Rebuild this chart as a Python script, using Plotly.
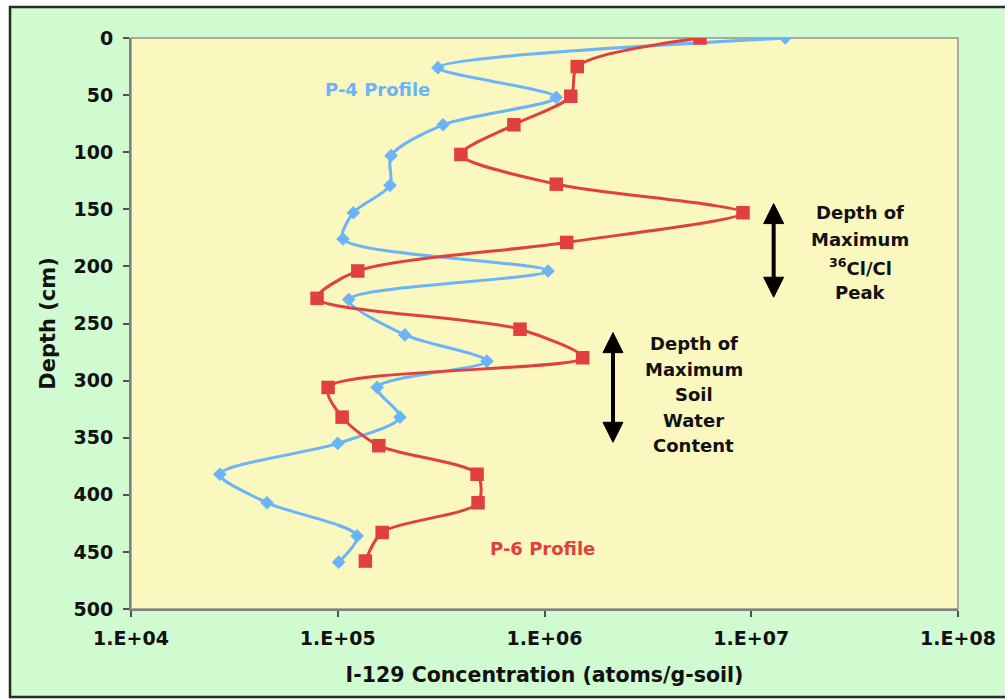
import plotly.graph_objects as go

# I-129 concentration profiles (atoms/g-soil) versus depth (cm)
depth_p4 = [0, 26, 52, 76, 103, 129, 153, 176, 204, 229, 260, 283, 306, 332, 355, 382, 407, 436, 459]
conc_p4 = [1.46e7, 3.05e5, 1.14e6, 3.23e5, 1.81e5, 1.79e5, 1.19e5, 1.06e5, 1.04e6, 1.13e5,
           2.11e5, 5.27e5, 1.55e5, 2.00e5, 1.00e5, 2.69e4, 4.55e4, 1.24e5, 1.01e5]

depth_p6 = [0, 25, 51, 76, 102, 128, 153, 179, 204, 228, 255, 280, 306, 332, 357, 382, 407, 433, 458]
conc_p6 = [5.65e6, 1.44e6, 1.34e6, 7.11e5, 3.94e5, 1.14e6, 9.12e6, 1.28e6, 1.25e5, 7.94e4,
           7.61e5, 1.53e6, 8.98e4, 1.05e5, 1.58e5, 4.72e5, 4.77e5, 1.64e5, 1.36e5]

x_tickvals = [1e4, 1e5, 1e6, 1e7, 1e8]
x_ticktext = ["1.E+04", "1.E+05", "1.E+06", "1.E+07", "1.E+08"]
y_tickvals = list(range(0, 501, 50))

# depth ranges marked with double-headed arrows: (x as plot-area fraction, top, bottom)
peak_arrow = (0.7771, 145, 227)
water_arrow = (0.5828, 258, 354)

peak_lines = ["Depth of", "Maximum", "<sup>36</sup>Cl/Cl", "Peak"]
peak_line_depths = [153, 176.3, 200.5, 223]
peak_text_x = 7.526

water_lines = ["Depth of", "Maximum", "Soil", "Water", "Content"]
water_line_depths = [267.3, 290.1, 312.6, 334.5, 357]
water_text_x = 6.723

BLUE = "#6AB4F7"
RED = "#E04040"
INK = "#111111"
FONT = "DejaVu Sans"

fig = go.Figure()
fig.add_trace(go.Scatter(
    x=conc_p4, y=depth_p4, mode="lines+markers", name="P-4 Profile",
    line=dict(color=BLUE, width=3, shape="spline", smoothing=0.8),
    marker=dict(symbol="diamond", size=10.5, color=BLUE),
))
fig.add_trace(go.Scatter(
    x=conc_p6, y=depth_p6, mode="lines+markers", name="P-6 Profile",
    line=dict(color=RED, width=3, shape="spline", smoothing=0.8),
    marker=dict(symbol="square", size=13.5, color=RED),
))

annotations = [
    dict(x=5.190, y=44.7, text="P-4 Profile", showarrow=False,
         font=dict(family=FONT, size=18, color=BLUE, weight="bold")),
    dict(x=5.988, y=446.6, text="P-6 Profile", showarrow=False,
         font=dict(family=FONT, size=18, color=RED, weight="bold")),
]
for txt, d in zip(peak_lines, peak_line_depths):
    annotations.append(dict(x=peak_text_x, y=d, text=txt, showarrow=False,
                            font=dict(family=FONT, size=18, color=INK, weight="bold")))
for txt, d in zip(water_lines, water_line_depths):
    annotations.append(dict(x=water_text_x, y=d, text=txt, showarrow=False,
                            font=dict(family=FONT, size=18, color=INK, weight="bold")))

L, R, T, B = 131, 47, 38, 91
W, H = 1005, 700
pw, ph = W - L - R, H - T - B


def px_x(p):
    return (p - L) / pw


def px_y(p):
    return (H - B - p) / ph


shapes = [
    # chart frame
    dict(type="rect", xref="paper", yref="paper", layer="below",
         x0=px_x(10), x1=px_x(1012), y0=px_y(697), y1=px_y(7),
         fillcolor="#D0FAD0", line=dict(color="#2A2A2A", width=2.5)),
    # plot area
    dict(type="rect", xref="paper", yref="paper", layer="below",
         x0=0, x1=1, y0=0, y1=1,
         fillcolor="#FAF8BE", line=dict(color="#939393", width=1.5)),
]

# double-headed arrows: shaft plus a filled triangle at each end
head_half = 10 / pw          # half width of an arrow head, in plot-area fraction
head_len = 20 / (ph / 500)   # head length, in depth units
for ax_x, top, bottom in (peak_arrow, water_arrow):
    shapes.append(dict(type="line", xref="paper", yref="y",
                       x0=ax_x, x1=ax_x, y0=top + head_len * 0.9, y1=bottom - head_len * 0.9,
                       line=dict(color="black", width=4)))
    shapes.append(dict(type="path", xref="paper", yref="y",
                       path=f"M {ax_x - head_half},{top + head_len} L {ax_x},{top} "
                            f"L {ax_x + head_half},{top + head_len} Z",
                       fillcolor="black", line=dict(color="black", width=1)))
    shapes.append(dict(type="path", xref="paper", yref="y",
                       path=f"M {ax_x - head_half},{bottom - head_len} L {ax_x},{bottom} "
                            f"L {ax_x + head_half},{bottom - head_len} Z",
                       fillcolor="black", line=dict(color="black", width=1)))

fig.update_layout(
    width=W, height=H,
    margin=dict(l=L, r=R, t=T, b=B, pad=0, autoexpand=False),
    paper_bgcolor="white",
    plot_bgcolor="rgba(0,0,0,0)",
    showlegend=False,
    annotations=annotations,
    shapes=shapes,
    xaxis=dict(
        type="log", range=[4, 8], tickvals=x_tickvals, ticktext=x_ticktext,
        automargin=False,
        showgrid=False, zeroline=False, showline=True, linecolor="#808080", linewidth=2,
        ticks="outside", ticklen=6, tickcolor="#505050", tickwidth=1.5,
        tickfont=dict(family=FONT, size=19, color=INK, weight="bold"),
        ticklabelstandoff=5,
        title=dict(text="I-129 Concentration (atoms/g-soil)", standoff=20,
                   font=dict(family=FONT, size=20.5, color=INK, weight="bold")),
    ),
    yaxis=dict(
        range=[500, 0], tickvals=y_tickvals,
        automargin=False,
        showgrid=False, zeroline=False, showline=True, linecolor="#808080", linewidth=2,
        ticks="outside", ticklen=6, tickcolor="#505050", tickwidth=1.5,
        tickfont=dict(family=FONT, size=19, color=INK, weight="bold"),
        ticklabelstandoff=6,
        title=dict(text="Depth (cm)", standoff=12,
                   font=dict(family=FONT, size=21, color=INK, weight="bold")),
    ),
)

fig.write_html("out.html")
